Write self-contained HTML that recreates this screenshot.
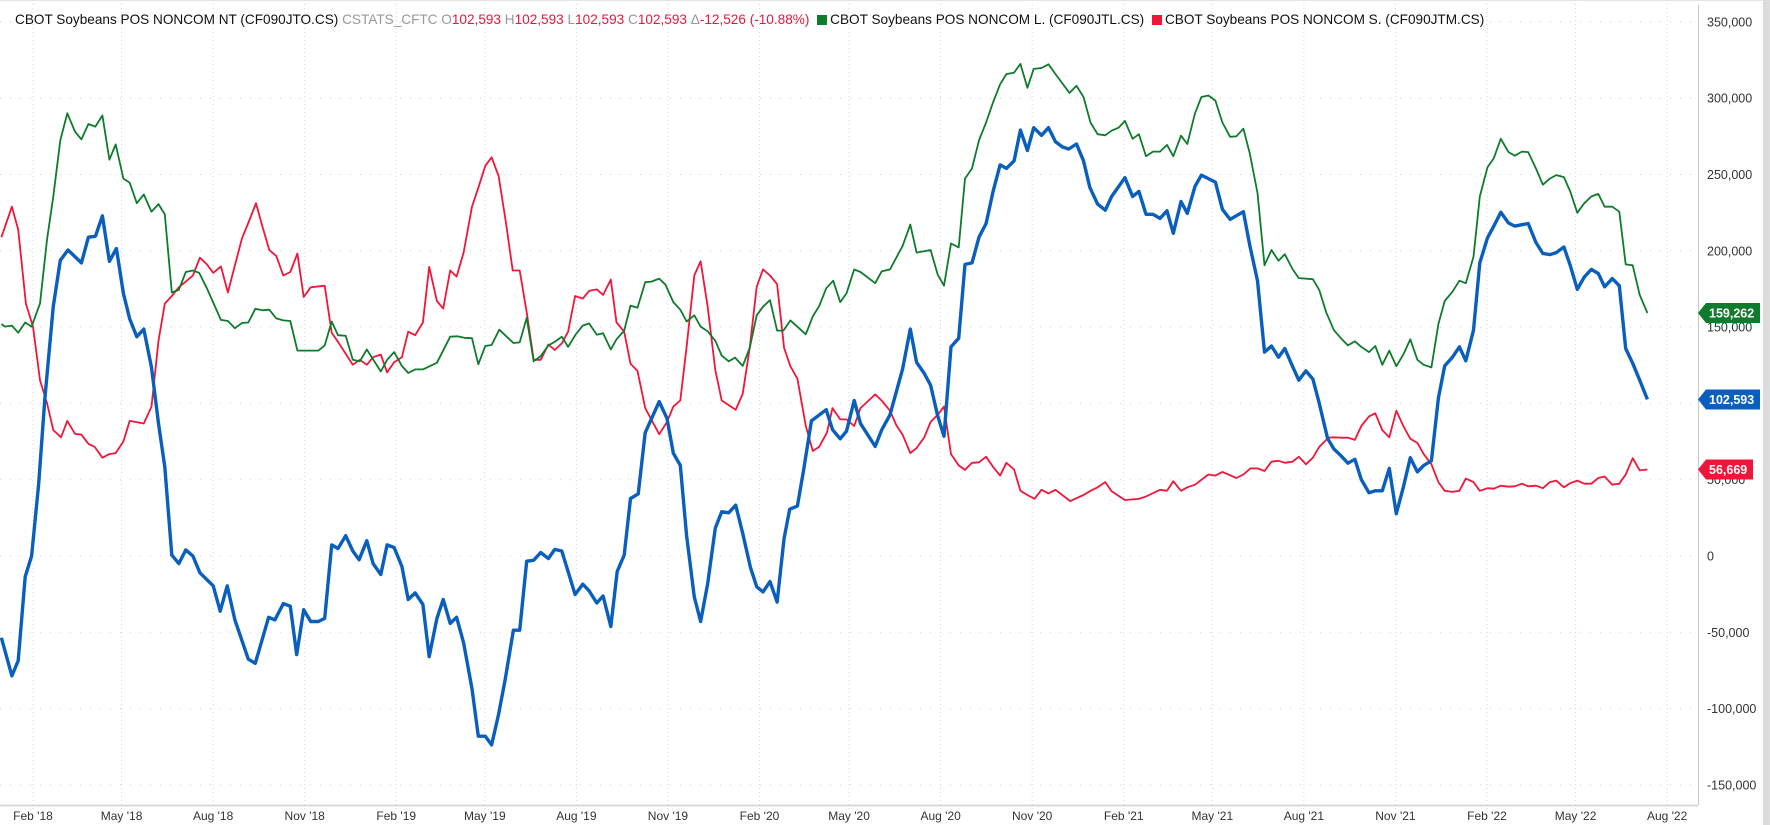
<!DOCTYPE html>
<html><head><meta charset="utf-8">
<style>
html,body{margin:0;padding:0;background:#fff;width:1770px;height:825px;overflow:hidden;font-family:"Liberation Sans",sans-serif;}
#hdr{position:absolute;left:15px;top:12px;font-size:13.6px;white-space:nowrap;color:#111;}
.g{color:#999}.r{color:#e8173d}
.sq{display:inline-block;width:10px;height:10px;margin:0 3px 0 4px;vertical-align:-1px}
</style></head><body>
<svg id="chart" width="1770" height="825" style="position:absolute;left:0;top:0">
<rect x="1763" y="0" width="7" height="825" fill="#dcdcdc"/>
<line x1="0" y1="0.5" x2="1763" y2="0.5" stroke="#e4e4e4"/>
<g id="grid"></g><g id="series"></g><g id="axes"></g>
</svg>
<div id="hdr"><span>CBOT Soybeans POS NONCOM NT (CF090JTO.CS)</span> <span class="g">CSTATS_CFTC O</span><span class="r">102,593</span><span class="g"> H</span><span class="r">102,593</span><span class="g"> L</span><span class="r">102,593</span><span class="g"> C</span><span class="r">102,593</span><span class="g"> Δ</span><span class="r">-12,526 (-10.88%)</span> <span class="sq" style="background:#0f7b2c"></span><span>CBOT Soybeans POS NONCOM L. (CF090JTL.CS)</span> <span class="sq" style="background:#f0163a"></span><span>CBOT Soybeans POS NONCOM S. (CF090JTM.CS)</span></div>
<script>
// data: week index (from late Dec 2017) and value in thousands
const ntWeeks=[0.2,1.7,2.6,3.6,4.5,5.5,6.4,7.6,8.6,9.7,11.6,12.6,13.6,14.6,15.6,16.6,17.6,18.5,19.5,20.5,21.6,22.6,23.5,24.5,25.5,26.5,27.5,28.5,30.4,31.4,32.4,33.5,35.4,36.4,38.3,39.2,40.4,41.4,42.3,43.3,44.3,45.4,46.3,47.3,48.2,49.3,50.3,51.2,52.3,53.2,54.3,55.2,56.2,57.3,58.2,59.2,60.3,61.2,62.3,63.2,64.2,65.1,66.1,67.3,68.2,69.2,70.1,71.1,72,73.2,74.1,75.1,76.1,77.1,78.2,79.1,80.1,82,83.1,84,85.1,86,87.1,88,89,89.9,91,92,94,95.1,96,97,97.9,99,99.9,100.9,102,102.9,103.9,104.9,105.9,107,107.9,108.8,109.8,110.8,111.8,112.6,113.7,114.6,115.7,117.8,118.7,119.8,120.7,121.8,122.7,124.8,125.7,126.9,128.7,129.8,130.7,131.8,132.7,133.7,134.6,135.6,136.7,137.6,138.6,139.6,140.6,141.6,142.6,143.5,144.6,145.5,146.5,147.4,148.5,149.5,150.5,151.5,152.4,153.5,154.5,155.4,156.5,157.6,158.5,160.4,161.5,162.4,163.4,164.4,165.4,166.4,167.3,168.4,169.3,170.4,171.3,172.3,173.3,174.3,175.4,177.3,178.2,179.3,180.3,181.3,182.3,183.2,184.3,185.2,186.2,187.2,188.1,189.3,190.2,191.2,192.2,193.2,194.1,195.2,196.1,197.1,198.1,199.1,200.1,201.1,202.1,203,204.1,205.1,206,207.1,208.1,209,210.1,211,212.1,213,214,215.1,216,217.9,219,220,221,221.9,223,223.9,224.9,225.9,226.9,227.9,228.8,229.9,230.9,231.8,232.8,233.8,234.9];
const ntValues=[-53.6,-78.6,-68.6,-13.5,0,46.7,103.5,163.7,193.8,200.5,192.1,208.9,209.5,222.9,193.1,201.5,172.1,155.4,143.7,148.7,123.6,86.8,58.4,0.6,-5,4,0,-11,-19.5,-36.2,-19.5,-41.9,-67.6,-70.3,-40.2,-41.9,-31.2,-32.9,-64.6,-35.2,-42.9,-42.9,-40.9,7.3,4.9,13.3,3.3,-2.4,10,-5,-12.1,7.3,5.6,-6.8,-28.5,-24.2,-31.8,-66,-40.9,-28.5,-44.2,-40.2,-56.9,-87,-118.1,-118.1,-123.8,-103.7,-82,-48.6,-48.6,-3.4,-2.8,2.3,-1.7,4.3,3.3,-25.2,-18.5,-22.8,-30.8,-26.2,-46.2,-10.1,0.6,37.7,40.7,80.8,101.2,90.2,67.4,59.4,13.3,-26.8,-42.9,-18.5,18.3,29,28.3,33.3,14.9,-7.4,-20.1,-23.5,-16.8,-30.2,11.6,30.7,32.7,56.7,88.5,95.9,82.8,76.8,81.8,101.9,86.8,71.8,82.5,92.5,122.6,148.7,126.9,119.6,111.9,91.8,78.5,137,142.7,191.1,192.1,208.9,217.9,239,256.3,254,259,279.1,265.7,280.7,275.7,280.7,271.4,268,266.7,270,259,241.6,230.6,226.6,235.6,247.9,235.6,238.9,223.9,223.9,221.2,226.2,211.5,232.3,224.6,242.3,249.6,247.3,245,227.2,220.6,225.6,203.8,180.4,133.6,137.6,130.3,136,124.3,115.2,121.3,115.9,100.2,77,70.1,65.8,60.8,63.4,50.1,41.4,42.7,42.7,57.4,27.7,45,64.4,55.1,59.4,62.4,103.5,124.6,130.3,137,127.9,148,192.1,208.5,216.2,225.2,218.2,216.2,217.9,205.5,198.2,197.5,198.8,202.5,190.5,174.8,182.8,187.8,185.1,176.4,181.8,177.1,136,126.3,115.2,102.593];
const longWeeks=[0.2,0.7,1.7,2.6,3.6,4.5,5.7,6.7,7.6,8.6,9.6,10.7,11.6,12.6,13.6,14.6,15.6,16.5,17.6,18.5,19.5,20.5,21.6,22.6,23.5,24.5,25.5,26.5,27.5,28.4,29.5,31.5,32.5,33.5,34.5,35.4,36.4,37.4,38.4,39.4,40.4,41.4,42.4,43.3,45.4,46.3,47.3,48.2,49.3,50.3,51.3,52.3,54.3,55.2,56.2,57.3,58.2,59.2,60.3,62.3,64.2,65.2,66.2,67.3,68.2,69.2,70.1,71.2,73.2,74.1,75.1,76.1,77.1,78.2,79.1,80.1,81,82.1,83.1,84,85.1,86,87.1,87.9,89,89.9,90.9,92,92.9,94,94.9,96,97,97.9,99,99.9,100.9,102,102.9,103.9,104.8,105.9,106.9,107.9,108.8,109.8,110.8,111.7,112.7,114.9,115.9,116.8,117.8,118.8,119.8,120.7,121.8,122.7,124.8,125.7,126.9,128.7,129.8,130.7,132.7,133.7,134.6,135.6,136.7,137.6,138.6,139.6,140.6,141.6,142.6,143.5,144.6,145.5,146.5,147.4,148.5,149.5,150.5,152.5,153.5,154.5,155.5,156.5,157.6,158.5,159.5,160.4,161.5,162.4,163.4,164.4,165.4,166.4,167.3,168.4,169.3,170.4,171.3,172.3,173.3,174.3,175.4,176.3,177.3,178.2,179.3,180.3,181.3,182.3,183.2,184.3,185.2,187.2,188.1,189.1,190.2,191.2,192.2,193.2,194.1,195.2,196.1,197.1,198.1,199.1,200.1,201.1,202.1,203,204.1,205.1,206,207.1,208.1,209,210.1,211,212.1,213,214,215.1,216,217,217.9,219,220,221,221.9,223,223.9,224.9,225.9,226.9,227.9,228.8,229.9,230.9,231.8,232.8,233.8,234.9];
const longValues=[152,150.3,151,146.3,153,150.3,165.4,207.2,235.6,272.4,290.1,278.1,273,283.1,281.4,288.7,259.7,269.7,247.3,244.6,231.2,236.9,225.6,230.6,223.9,172.7,174.4,186.1,187.1,185.5,175.4,154.7,154,149.3,152.7,153,162,161,161.4,155.7,154.4,154,134.6,134.6,134.6,138,153.7,144.7,144.3,128.6,127.6,135.3,120.9,128.6,133.6,124.6,119.9,122.3,122.3,126.6,143.7,144,143,142.7,125.6,137.6,138.3,148.3,139.6,140,156,127.6,131,138,140.3,143.7,137,145.3,151,152.4,145,146,135.3,142,147.7,164.1,162.7,179.4,179.8,181.8,177.8,166.4,161.4,153.7,157.7,150.3,147.3,141,131.3,127.6,130,124.6,136.3,157.7,163.4,167.7,147.7,147.7,154.4,145.3,157,163.7,175.4,180.4,166.4,172.1,187.8,186.1,178.8,186.5,187.8,203.2,217.2,198.8,200.5,184.4,177.1,204.8,202.2,247.3,254,272.4,284.1,297.4,309.1,315.8,316.8,322.5,306.8,319.2,319.8,322.2,315.8,303.5,308.1,300.8,284.1,276.4,275.7,278.7,280.7,285.1,273.4,276.4,262,265,265,269.4,262,275.4,270,290.1,300.8,301.8,298.4,284.1,274.7,275,280,264,237.9,190.5,200.5,193.5,197.8,188.1,182.1,181.4,174.4,159.7,148,142.7,138,140.7,137,133.6,137.6,125.3,134.6,124.3,132,142,128.6,125.3,123.6,152,167.1,173.1,180.4,178.8,196.1,235.6,254.7,260.7,273.4,264.7,262.3,265,264.7,254,243.3,247.3,249.6,248.3,238.9,224.9,231.2,235.6,237.3,228.9,228.9,225.6,191.1,190.5,171.1,159.262];
const shortWeeks=[0.2,1.7,2.6,3.7,4.7,5.7,6.7,7.6,8.7,9.6,10.7,11.6,12.6,13.5,14.6,15.6,16.5,17.6,18.5,20.5,21.6,22.6,23.5,24.5,25.5,26.5,27.5,28.5,29.5,30.4,31.5,32.5,33.5,34.5,35.4,36.5,37.4,38.4,39.4,40.4,41.4,42.4,43.3,44.3,46.3,47.3,48.2,49.3,50.3,51.3,52.3,53.2,54.3,55.2,56.2,57.3,58.2,59.2,60.3,61.2,62.3,63.2,64.2,65.1,66.1,67.3,68.2,69.2,70.1,71.1,72.1,73.1,74.1,75.1,76.1,77.1,78.2,79.1,80.1,81,82,83.1,84,85.1,86,87.1,87.9,89,89.9,90.9,92,94,95.1,96,97,97.9,99,99.9,100.9,102,102.9,104.9,105.9,106.9,107.9,108.8,109.8,110.8,111.8,112.7,113.7,114.9,115.9,116.8,117.9,118.7,119.8,120.7,121.8,122.7,124.8,125.7,126.9,127.8,128.7,129.8,130.7,131.8,132.7,133.7,134.6,135.6,136.7,137.6,138.6,139.6,140.6,141.6,142.6,143.5,144.6,145.5,146.5,147.5,148.5,149.5,150.5,152.6,154.5,155.5,156.5,157.6,158.5,160.4,162.4,163.4,165.4,166.4,167.3,168.4,169.3,170.4,172.3,173.3,174.3,176.3,177.3,178.3,179.3,180.3,181.3,182.3,183.2,184.3,185.2,186.2,187.2,188.1,189.4,190.2,191.2,192.2,193.2,194.1,195.2,196.1,197.1,198.1,199.1,200.1,201.1,202.1,203,204.1,205.1,206,207.1,208.1,209,210.1,211,212.1,213,214,215.1,216,217,217.9,219,220,221,221.9,223,223.9,224.9,225.9,226.9,227.9,228.8,229.9,230.9,231.8,232.8,233.8,234.9];
const shortValues=[208.9,228.9,213.9,165.4,150.3,115.2,100.2,82.5,77.8,88.5,80.1,79.5,73.5,71.5,64.4,66.8,67.4,75.1,88.5,86.8,97.9,141,165.4,170.4,176.1,179.8,183.8,195.5,191.1,185.5,189.8,172.7,190.5,208.2,218.2,231.2,216.2,200.5,196.5,183.8,186.1,198.2,169.7,176.1,177.1,146.3,140.3,132.6,125.3,128.6,125.3,130.3,132,120.3,127,130.3,147,144.7,153,189.5,167.1,162.1,187.1,183.1,198.8,228.9,241.3,255.7,261.3,249,219.9,187.1,187.1,159.7,128.6,128.6,138.6,135,139.3,147,170.4,168.7,173.7,174.7,171.1,181.1,153,147,126,121.3,96.9,79.8,87.8,97.9,101.9,137,183.8,193.1,163.7,121.9,101.9,95.9,106.2,136.3,176.4,187.8,183.8,178.1,136.3,124.3,116.2,85.2,68.8,71.5,80.8,96.9,89.5,89.5,85.2,96.9,105.9,101.9,95.2,85.8,79.5,67.4,70.8,77.8,87.8,92.5,97.9,66.8,59.4,56.4,61.1,61.4,65.1,58.4,52.7,61.1,56.7,42.7,40,37.4,43.4,41,43.4,36,40,42.7,45,48.4,42.4,36.7,37.4,39,43.4,42.7,49,42.7,45,46.7,53.4,52.7,55.1,51.1,53.4,57.4,57.4,55.7,61.8,62.4,61.1,61.8,65.1,60.1,64.4,71.5,77.5,77.8,77.5,77.5,76.1,85.2,91.5,93.5,82.5,77.8,95.2,85.2,76.8,74.1,66.8,60.1,48.4,42.7,42,42.7,50.7,48.4,42.7,44.4,44.1,46.1,45.4,45.7,47.4,45.7,46.1,44.4,48.4,49.4,45,47.7,49.4,47.4,47.4,51.1,52.1,46.7,47.4,53.4,64.1,56.1,56.669];
const yTicks=[350,300,250,200,150,100,50,0,-50,-100,-150];
const xTickDates=["2018-02-01","2018-05-01","2018-08-01","2018-11-01","2019-02-01","2019-05-01","2019-08-01","2019-11-01","2020-02-01","2020-05-01","2020-08-01","2020-11-01","2021-02-01","2021-05-01","2021-08-01","2021-11-01","2022-02-01","2022-05-01","2022-08-01"];
const xTickLabels=["Feb '18","May '18","Aug '18","Nov '18","Feb '19","May '19","Aug '19","Nov '19","Feb '20","May '20","Aug '20","Nov '20","Feb '21","May '21","Aug '21","Nov '21","Feb '22","May '22","Aug '22"];

const NS="http://www.w3.org/2000/svg";
const PR=1698, PB=805;
const base=Date.UTC(2018,1,1);
function xDay(d){return 33+d*0.9952;}
function xDate(s){const p=s.split('-');return xDay((Date.UTC(+p[0],+p[1]-1,+p[2])-base)/864e5);}
function xWeek(w){return xDay(w*7.047-33.16);}
function y(v){return 556-v*1.526;}
function el(tag,attrs,parent){const e=document.createElementNS(NS,tag);for(const k in attrs)e.setAttribute(k,attrs[k]);parent.appendChild(e);return e;}
const grid=document.getElementById('grid'),axes=document.getElementById('axes'),series=document.getElementById('series');
yTicks.forEach(t=>{
  const l=el('line',{x1:0,x2:PR,y1:y(t),y2:y(t),stroke:'#d0d0d0','stroke-dasharray':'1 9'},grid);
  
  
  const tx=el('text',{x:1707,y:y(t)+4.5,'font-size':12.5,fill:'#333','font-family':'Liberation Sans, sans-serif'},axes);
  tx.textContent=t===0?'0':(t*1000).toLocaleString('en-US');
  
  
});
xTickDates.forEach((d,i)=>{
  const x=xDate(d);
  const l=el('line',{x1:x,x2:x,y1:0,y2:PB+4,stroke:'#d6d6d6','stroke-dasharray':'1 3'},grid);
  
  
  const tx=el('text',{x:x,y:820,'font-size':12,fill:'#333','text-anchor':'middle','font-family':'Liberation Sans, sans-serif'},axes);
  tx.textContent=xTickLabels[i];
  
  
});
const ax1=el('line',{x1:PR+0.5,x2:PR+0.5,y1:5,y2:PB,stroke:'#c8c8c8','stroke-width':1},axes);


const ax2=el('line',{x1:0,x2:PR,y1:PB+0.5,y2:PB+0.5,stroke:'#d8d8d8','stroke-width':2},axes);


function drawLine(ws,vs,color,w,name){
  const d=ws.map((wk,i)=>(i?'L':'M')+xWeek(wk).toFixed(1)+','+y(vs[i]).toFixed(1)).join('');
  const p=el('path',{d:d,fill:'none',stroke:color,'stroke-width':w,'stroke-linejoin':'round'},series);
  
  
}
drawLine(shortWeeks,shortValues,'#f0163a',1.8,'short-series-line');
drawLine(longWeeks,longValues,'#0f7b2c',1.8,'long-series-line');
drawLine(ntWeeks,ntValues,'#0a5fbd',3.4,'net-series-line');
function tag(v,color,w,name){
  const yy=y(v);
  const g=el('g',{},axes);
  
  
  el('path',{d:`M${PR},${yy} L${PR+8},${yy-10} L${PR+w},${yy-10} L${PR+w},${yy+10} L${PR+8},${yy+10}Z`,fill:color},g);
  const t=el('text',{x:PR+11,y:yy+4.5,'font-size':12.5,'font-weight':'bold',fill:'#fff','font-family':'Liberation Sans, sans-serif'},g);
  t.textContent=Math.round(v*1000).toLocaleString('en-US');
}
tag(longValues[longValues.length-1],'#0f7b2c',62,'long-last-value-tag');
tag(ntValues[ntValues.length-1],'#0a5fbd',62,'net-last-value-tag');
tag(shortValues[shortValues.length-1],'#f0163a',55,'short-last-value-tag');
</script>
</body></html>
